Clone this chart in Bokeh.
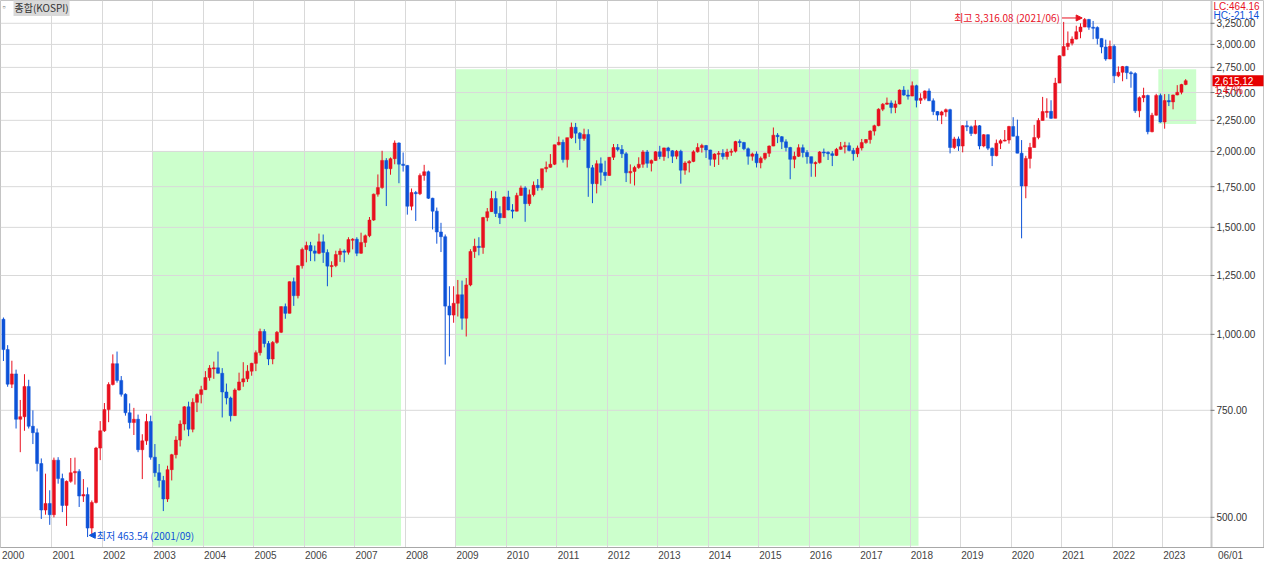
import math
from bokeh.plotting import figure
from bokeh.models import (Range1d, FixedTicker, CustomJSTickFormatter,
                          Label, Arrow, NormalHead, ColumnDataSource)
from bokeh.embed import file_html
from bokeh.resources import INLINE
from bokeh.core.properties import value

# ---------------- data (KOSPI monthly, 2000/01 - 2023/06) ----------------
open_ = [
    1059, 944, 828, 861, 725, 732, 821, 706, 689, 613, 514, 527,
    505, 621, 579, 523, 573, 592, 595, 542, 545, 480, 529, 650,
    694, 752, 827, 895, 840, 797, 743, 716, 725, 646, 668, 719,
    628, 592, 575, 536, 599, 634, 670, 712, 760, 698, 773, 796,
    811, 849, 880, 881, 863, 804, 786, 735, 810, 835, 845, 870,
    896, 933, 1011, 966, 911, 970, 1008, 1111, 1083, 1221, 1158, 1297,
    1379, 1400, 1372, 1360, 1420, 1364, 1295, 1298, 1353, 1371, 1365, 1432,
    1434, 1360, 1417, 1453, 1542, 1701, 1744, 1933, 1873, 1946, 2065, 1906,
    1897, 1625, 1712, 1704, 1826, 1852, 1675, 1595, 1474, 1448, 1113, 1076,
    1125, 1162, 1063, 1206, 1369, 1396, 1390, 1557, 1592, 1673, 1581, 1556,
    1683, 1602, 1595, 1693, 1742, 1641, 1698, 1759, 1743, 1873, 1883, 1905,
    2051, 2070, 1939, 2107, 2192, 2143, 2101, 2133, 1880, 1770, 1909, 1848,
    1826, 1956, 2030, 2014, 1982, 1844, 1854, 1882, 1905, 1996, 1912, 1933,
    1997, 1962, 2027, 2005, 1964, 2001, 1863, 1914, 1926, 1997, 2030, 2045,
    2011, 1941, 1980, 1986, 1962, 1995, 2002, 2076, 2069, 2020, 1964, 1981,
    1916, 1949, 1986, 2041, 2127, 2115, 2074, 2030, 1941, 1963, 2029, 1992,
    1961, 1912, 1917, 1996, 1994, 1983, 1970, 2016, 2035, 2044, 2008, 1983,
    2026, 2068, 2092, 2160, 2205, 2347, 2392, 2403, 2363, 2394, 2523, 2476,
    2467, 2566, 2427, 2446, 2515, 2423, 2326, 2295, 2323, 2343, 2030, 2097,
    2041, 2205, 2195, 2141, 2204, 2042, 2131, 2025, 1968, 2063, 2083, 2088,
    2198, 2119, 1987, 1755, 1948, 2030, 2108, 2249, 2326, 2328, 2267, 2591,
    2873, 2976, 3013, 3061, 3148, 3204, 3297, 3202, 3199, 3069, 2971, 2839,
    2978, 2663, 2699, 2758, 2695, 2686, 2333, 2452, 2472, 2155, 2294, 2473,
    2236, 2425, 2413, 2477, 2502, 2577,
]
high = [
    1066, 960, 905, 875, 780, 860, 842, 750, 700, 625, 590, 554,
    627, 628, 590, 575, 626, 627, 600, 578, 560, 533, 653, 720,
    771, 834, 927, 937, 854, 800, 770, 757, 738, 685, 740, 735,
    660, 612, 585, 608, 636, 680, 722, 762, 775, 785, 800, 823,
    870, 890, 902, 937, 880, 830, 790, 815, 865, 900, 890, 898,
    941, 1022, 1020, 975, 975, 1013, 1112, 1124, 1222, 1240, 1300, 1389,
    1421, 1420, 1400, 1465, 1460, 1380, 1319, 1373, 1385, 1380, 1445, 1440,
    1445, 1470, 1460, 1560, 1705, 1833, 2005, 1950, 1955, 2085, 2070, 1992,
    1899, 1738, 1722, 1840, 1901, 1860, 1678, 1617, 1526, 1460, 1200, 1200,
    1229, 1226, 1238, 1381, 1437, 1445, 1561, 1614, 1723, 1720, 1625, 1687,
    1723, 1638, 1710, 1757, 1753, 1731, 1785, 1801, 1873, 1925, 1980, 2052,
    2116, 2092, 2107, 2231, 2228, 2152, 2180, 2175, 1900, 1934, 1955, 1931,
    1958, 2057, 2057, 2049, 1995, 1904, 1894, 1956, 2010, 2011, 1940, 2002,
    2043, 2029, 2035, 2010, 2011, 2013, 1927, 1935, 2009, 2063, 2059, 2050,
    2013, 1986, 2003, 2017, 2020, 2021, 2082, 2093, 2074, 2030, 1991, 2000,
    1962, 1990, 2046, 2190, 2144, 2120, 2094, 2035, 1998, 2055, 2053, 2010,
    1961, 1926, 2003, 2022, 2000, 2002, 2027, 2073, 2074, 2069, 2027, 2045,
    2097, 2096, 2167, 2213, 2355, 2402, 2453, 2426, 2425, 2530, 2561, 2527,
    2607, 2575, 2493, 2521, 2539, 2445, 2330, 2333, 2353, 2351, 2114, 2116,
    2210, 2246, 2206, 2253, 2210, 2136, 2134, 2030, 2092, 2095, 2169, 2204,
    2277, 2256, 2088, 1967, 2066, 2212, 2269, 2459, 2446, 2428, 2643, 2878,
    3267, 3151, 3092, 3220, 3249, 3316, 3305, 3279, 3212, 3070, 3055, 3044,
    2999, 2760, 2765, 2766, 2711, 2700, 2464, 2546, 2480, 2315, 2488, 2490,
    2485, 2485, 2480, 2571, 2584, 2630,
]
low = [
    904, 820, 816, 700, 640, 694, 700, 660, 595, 497, 505, 486,
    500, 568, 510, 484, 570, 566, 520, 530, 464, 468, 527, 621,
    691, 717, 824, 833, 790, 735, 700, 683, 640, 578, 658, 622,
    583, 560, 512, 530, 575, 625, 654, 695, 680, 690, 745, 770,
    810, 839, 845, 862, 730, 767, 719, 735, 808, 820, 835, 855,
    870, 923, 952, 890, 893, 965, 1005, 1061, 1083, 1114, 1146, 1283,
    1314, 1320, 1319, 1355, 1311, 1200, 1242, 1290, 1316, 1314, 1353, 1380,
    1345, 1357, 1392, 1445, 1537, 1685, 1736, 1626, 1831, 1905, 1773, 1853,
    1574, 1600, 1537, 1695, 1790, 1670, 1488, 1410, 1366, 892, 920, 1045,
    1070, 1018, 992, 1200, 1336, 1349, 1357, 1535, 1590, 1560, 1519, 1555,
    1600, 1552, 1594, 1692, 1532, 1627, 1686, 1723, 1726, 1848, 1880, 1899,
    2046, 1917, 1882, 2097, 2063, 2011, 2082, 1684, 1644, 1706, 1758, 1788,
    1824, 1936, 2000, 1951, 1781, 1770, 1758, 1872, 1880, 1880, 1854, 1930,
    1942, 1930, 1949, 1914, 1942, 1770, 1831, 1847, 1920, 1991, 1991, 1951,
    1895, 1886, 1900, 1940, 1939, 1967, 1992, 2033, 2009, 1902, 1931, 1882,
    1876, 1935, 1959, 2040, 2064, 2018, 2000, 1800, 1877, 1958, 1955, 1909,
    1817, 1817, 1910, 1960, 1936, 1892, 1965, 2013, 1985, 2000, 1931, 1957,
    2007, 2059, 2060, 2124, 2200, 2330, 2386, 2310, 2312, 2390, 2470, 2434,
    2465, 2363, 2394, 2428, 2422, 2295, 2247, 2218, 2281, 1985, 2018, 2004,
    1993, 2160, 2120, 2134, 2016, 2032, 2010, 1892, 1963, 2018, 2077, 2060,
    2117, 1986, 1439, 1675, 1875, 2030, 2094, 2249, 2273, 2262, 2267, 2591,
    2869, 2936, 2988, 3057, 3071, 3203, 3170, 3060, 3000, 2901, 2820, 2837,
    2591, 2650, 2609, 2630, 2546, 2314, 2276, 2410, 2134, 2150, 2291, 2230,
    2180, 2375, 2346, 2474, 2483, 2570,
]
close = [
    944, 828, 861, 725, 732, 821, 706, 689, 613, 514, 527, 505,
    621, 579, 523, 573, 592, 595, 542, 545, 480, 529, 650, 694,
    752, 827, 895, 840, 797, 743, 716, 725, 646, 668, 719, 628,
    592, 575, 536, 599, 634, 670, 712, 760, 698, 773, 796, 811,
    849, 880, 881, 863, 804, 786, 735, 810, 835, 845, 870, 896,
    933, 1011, 966, 911, 970, 1008, 1111, 1083, 1221, 1158, 1297, 1379,
    1400, 1372, 1360, 1420, 1364, 1295, 1298, 1353, 1371, 1365, 1432, 1434,
    1360, 1417, 1453, 1542, 1701, 1744, 1933, 1873, 1946, 2065, 1906, 1897,
    1625, 1712, 1704, 1826, 1852, 1675, 1595, 1474, 1448, 1113, 1076, 1125,
    1162, 1063, 1206, 1369, 1396, 1390, 1557, 1592, 1673, 1581, 1556, 1683,
    1602, 1595, 1693, 1742, 1641, 1698, 1759, 1743, 1873, 1883, 1905, 2051,
    2070, 1939, 2107, 2192, 2143, 2101, 2133, 1880, 1770, 1909, 1848, 1826,
    1956, 2030, 2014, 1982, 1844, 1854, 1882, 1905, 1996, 1912, 1933, 1997,
    1962, 2027, 2005, 1964, 2001, 1863, 1914, 1926, 1997, 2030, 2045, 2011,
    1941, 1980, 1986, 1962, 1995, 2002, 2076, 2069, 2020, 1964, 1981, 1916,
    1949, 1986, 2041, 2127, 2115, 2074, 2030, 1941, 1963, 2029, 1992, 1961,
    1912, 1917, 1996, 1994, 1983, 1970, 2016, 2035, 2044, 2008, 1983, 2026,
    2068, 2092, 2160, 2205, 2347, 2392, 2403, 2363, 2394, 2523, 2476, 2467,
    2566, 2427, 2446, 2515, 2423, 2326, 2295, 2323, 2343, 2030, 2097, 2041,
    2205, 2195, 2141, 2204, 2042, 2131, 2025, 1968, 2063, 2083, 2088, 2198,
    2119, 1987, 1755, 1948, 2030, 2108, 2249, 2326, 2328, 2267, 2591, 2873,
    2976, 3013, 3061, 3148, 3204, 3297, 3202, 3199, 3069, 2971, 2839, 2978,
    2663, 2699, 2758, 2695, 2686, 2333, 2452, 2472, 2155, 2294, 2473, 2236,
    2425, 2413, 2477, 2502, 2577, 2615,
]
first_year = 2000
year_labels = [str(y) for y in range(2000, 2024)]
y_ticks = [500, 750, 1000, 1250, 1500, 1750, 2000, 2250, 2500, 2750, 3000, 3250]

# highlighted zones: (from month, to month, bottom value, top value)
zone_from = ["2003/01", "2009/01", "2022/12"]
zone_to = ["2007/11", "2018/02", "2023/08"]
zone_bottom = [449, 449, 2218]
zone_top = [2000, 2731, 2731]

hi_text, hi_value, hi_month = "최고 3,316.08 (2021/06)", 3316.08, "2021/06"
lo_text, lo_value, lo_month = "최저 463.54 (2001/09)", 463.54, "2001/09"
last_price_text, last_change_text = "2,615.12", "1.47%"
lc_text, hc_text, date_text = "LC:464.16", "HC:-21.14", "06/01"
title_text = "종합(KOSPI)"

# ---------------- figure ----------------
RED = "#e8101f"
BLUE = "#0d52d8"
GRID = "#d9d9d9"
KFONT = value("Noto Sans CJK KR")
NFONT = value("Liberation Sans")

W, H = 1264, 563
AXIS_H = 14
CHART_W = 1210                 # width of the candle area; the rest holds the price scale


def midx(s):
    y, m = s.split("/")
    return (int(y) - first_year) * 12 + int(m) - 1


n = len(close)
xs = list(range(n))
colors = [RED if c >= o else BLUE for o, c in zip(open_, close)]
body_top = [max(o, c) for o, c in zip(open_, close)]
body_bot = [min(o, c) for o, c in zip(open_, close)]
body_bot = [b if t / b > 1.004 else t / 1.004 for t, b in zip(body_top, body_bot)]

src = ColumnDataSource(dict(x=xs, high=high, low=low, top=body_top, bottom=body_bot, color=colors))

x0, x1 = -0.7, 286.9           # candle area
ppm = CHART_W / (x1 - x0)      # pixels per month
xR = x0 + W / ppm              # right end incl. the price scale
y0, y1 = 446, 3543
frame_h = H - AXIS_H
ppl = frame_h / math.log(y1 / y0)   # pixels per log unit


def dx(px):
    return px / ppm


def fy(v, px):
    """value shifted by px pixels upward on the log scale"""
    return v * math.exp(px / ppl)


p = figure(width=W, height=H, y_axis_type="log", y_axis_location=None,
           x_range=Range1d(x0, xR), y_range=Range1d(y0, y1),
           output_backend="svg", toolbar_location=None)
p.min_border_left = 0
p.min_border_top = 0
p.min_border_bottom = 0
p.min_border_right = 0
p.background_fill_color = "white"
p.border_fill_color = "white"
p.outline_line_color = "#c4c4c4"
p.ygrid.visible = False

# zones (below grid)
zsrc = ColumnDataSource(dict(left=[midx(a) - 0.5 for a in zone_from],
                             right=[midx(b) + 0.5 for b in zone_to],
                             bottom=zone_bottom, top=zone_top))
zr = p.quad(left="left", right="right", bottom="bottom", top="top", source=zsrc,
            fill_color="#ccffcc", line_color=None)
zr.level = "image"

# vertical grid at year boundaries
p.xgrid.ticker = FixedTicker(ticks=[12 * k - 0.5 for k in range(1, len(year_labels))])
p.xgrid.grid_line_color = GRID

# horizontal grid, limited to the candle area
gsrc = ColumnDataSource(dict(y=y_ticks, xa=[x0] * len(y_ticks), xb=[x1] * len(y_ticks),
                             tx=[x1 + dx(6)] * len(y_ticks), tk=[x1 + dx(4)] * len(y_ticks),
                             lab=[f"{v:,.2f}" for v in y_ticks]))
g = p.segment(x0="xa", y0="y", x1="xb", y1="y", source=gsrc, line_color=GRID, line_width=1)
g.level = "underlay"

# candles
p.segment(x0="x", y0="high", x1="x", y1="low", source=src, line_color="color", line_width=1)
p.vbar(x="x", width=0.72, top="top", bottom="bottom", source=src,
       fill_color="color", line_color="color", line_width=0.5)

# price scale (right)
p.segment(x0=[x1 + dx(1)], y0=[y0], x1=[x1 + dx(1)], y1=[y1], line_color="#c8c8c8", line_width=2)
p.segment(x0="xb", y0="y", x1="tk", y1="y", source=gsrc, line_color="#777777", line_width=1)
p.text(x="tx", y="y", text="lab", source=gsrc, text_align="left", text_baseline="middle",
       text_font=NFONT, text_font_size="10px", text_color="#333333")

# current price tag
p.quad(left=[x1 + dx(2)], right=[xR - dx(1)], bottom=[fy(close[-1], -5.5)], top=[fy(close[-1], 5.5)],
       fill_color="#e60000", line_color=None)
p.text(x=[x1 + dx(4)], y=[close[-1]], text=[last_price_text], text_align="left", text_baseline="middle",
       text_font=NFONT, text_font_size="10px", text_color="white")
p.text(x=[x1 + dx(4)], y=[fy(close[-1], -10)], text=[last_change_text], text_align="left",
       text_baseline="middle", text_font=NFONT, text_font_size="10px", text_color=RED)

# LC / HC
p.text(x=[x1 + dx(3)], y=[fy(y1, -6)], text=[lc_text], text_align="left", text_baseline="middle",
       text_font=NFONT, text_font_size="10px", text_color=RED)
p.text(x=[x1 + dx(3)], y=[fy(y1, -15)], text=[hc_text], text_align="left", text_baseline="middle",
       text_font=NFONT, text_font_size="10px", text_color=BLUE)

# bottom axis
xa = p.xaxis[0]
date_tick = x1 + dx(20)
xa.ticker = FixedTicker(ticks=[12 * k + 2.3 for k in range(len(year_labels))] + [date_tick])
xa.formatter = CustomJSTickFormatter(
    args=dict(lim=x1, d=date_text),
    code="if (tick > lim) { return d; } return String(%d + Math.floor(tick / 12));" % first_year)
xa.major_tick_out = 0
xa.major_tick_in = 0
xa.minor_tick_out = 0
xa.minor_tick_in = 0
xa.axis_line_color = "#a8a8a8"
xa.major_label_text_font = "Liberation Sans"
xa.major_label_text_font_size = "10px"
xa.major_label_text_color = "#444444"
xa.major_label_standoff = 2

# annotations: high / low
hx = midx(hi_month)
p.add_layout(Arrow(end=NormalHead(size=6, fill_color=RED, line_color=RED, line_width=1),
                   x_start=hx - 5.4, y_start=hi_value, x_end=hx - 0.6, y_end=hi_value,
                   line_color=RED, line_width=1))
p.add_layout(Label(x=hx - 5.9, y=hi_value, text=hi_text, text_align="right", text_baseline="middle",
                   text_font="Noto Sans CJK KR", text_font_size="10px", text_color=RED))

lx = midx(lo_month)
p.add_layout(Arrow(end=NormalHead(size=6, fill_color=BLUE, line_color=BLUE, line_width=1),
                   x_start=lx + 2.0, y_start=fy(lo_value, 2), x_end=lx + 0.4, y_end=fy(lo_value, 2),
                   line_color=BLUE, line_width=1))
p.add_layout(Label(x=lx + 2.2, y=fy(lo_value, 2), text=lo_text, text_align="left", text_baseline="middle",
                   text_font="Noto Sans CJK KR", text_font_size="10px", text_color=BLUE))

# title tag at top-left
p.add_layout(Label(x=x0 + dx(2), y=fy(y1, -7), text="▫", text_align="left",
                   text_baseline="middle", text_font="Liberation Sans", text_font_size="9px",
                   text_color="#777777"))
p.add_layout(Label(x=x0 + dx(13), y=fy(y1, -7), text=title_text, text_align="left",
                   text_baseline="middle", text_font="Noto Sans CJK KR", text_font_size="10px",
                   text_color="#333333", background_fill_color="#d9d9d9", padding=1))

open("out.html", "w").write(file_html(p, INLINE))
